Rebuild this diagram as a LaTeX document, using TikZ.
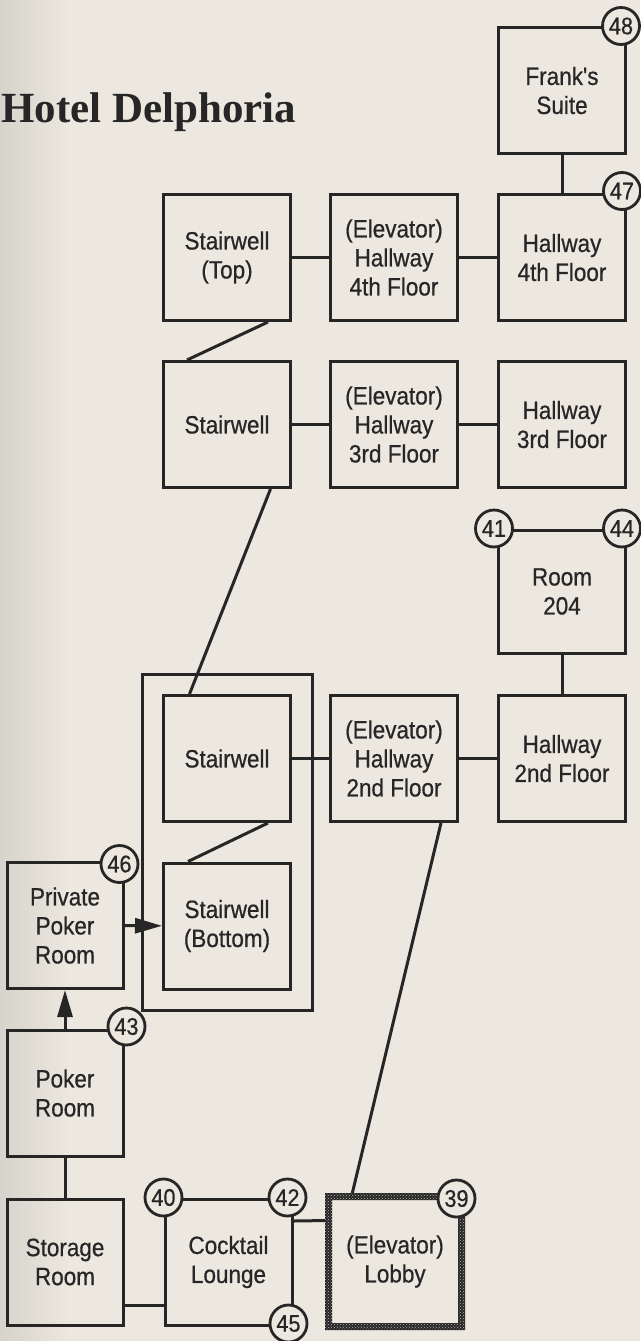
\documentclass[tikz,border=0pt]{standalone}
\usepackage{fontspec}
\setmainfont{Liberation Sans}
\newfontfamily\lab[FakeStretch=0.9,FakeBold=0.6]{Liberation Sans}
\newfontfamily\ttl{Liberation Serif}
\usetikzlibrary{arrows.meta,patterns,fit}
\definecolor{paper}{RGB}{236,232,223}
\definecolor{ink}{RGB}{38,38,38}
\begin{document}
\begin{tikzpicture}[x=1pt,y=-1pt,
 room/.style={draw=ink, line width=3pt, minimum width=127pt, minimum height=126pt, inner sep=0pt, align=center, font=\lab\fontsize{25}{29}\selectfont, text=ink},
 narrowroom/.style={room, minimum width=116pt},
 num/.style={circle, draw=ink, fill=paper, line width=2.8pt, minimum size=37pt, inner sep=0pt, font=\lab\fontsize{24}{24}\selectfont, text=ink},
 link/.style={draw=ink, line width=3pt},
 arr/.style={link, -{Triangle[length=27pt,width=15pt]}}
]
\useasboundingbox (0,0) rectangle (640,1341);
\fill[paper] (0,0) rectangle (640,1341);
\shade[left color=paper!80!gray, right color=paper] (0,0) rectangle (70,1341);

\node[anchor=base west, font=\ttl\bfseries\fontsize{43}{43}\selectfont, text=ink, inner sep=0pt] (title) at (1,122) {Hotel Delphoria};

\node[room] (frank) at (562,90.5) {Frank's\\Suite};
\node[room] (st4) at (227,257.5) {Stairwell\\(Top)};
\node[room] (eh4) at (394,257.5) {(Elevator)\\Hallway\\4th Floor};
\node[room] (h4) at (562,257.5) {Hallway\\4th Floor};
\node[room] (st3) at (227,424.5) {Stairwell};
\node[room] (eh3) at (394,424.5) {(Elevator)\\Hallway\\3rd Floor};
\node[room] (h3) at (562,424.5) {Hallway\\3rd Floor};
\node[room, minimum height=123pt] (r204) at (562,591.5) {Room\\204};
\node[room] (st2) at (227,758.5) {Stairwell};
\node[room] (eh2) at (394,758.5) {(Elevator)\\Hallway\\2nd Floor};
\node[room] (h2) at (562,758.5) {Hallway\\2nd Floor};
\node[room] (stb) at (227,926) {Stairwell\\(Bottom)};
\node[narrowroom] (ppr) at (65,925.5) {Private\\Poker\\Room};
\node[narrowroom] (poker) at (65,1093) {Poker\\Room};
\node[narrowroom] (storage) at (65,1262) {Storage\\Room};
\node[room] (cocktail) at (228.5,1262) {Cocktail\\Lounge};
\node[room, draw=none, minimum width=130pt, minimum height=127pt] (lobby) at (395,1261.5) {(Elevator)\\Lobby};
\node[draw=ink, line width=3pt, fit=(st2)(stb), inner sep=20pt] (stairbox) {};

% connectors
\draw[link] (frank) -- (h4);
\draw[link] (st4) -- (eh4);
\draw[link] (eh4) -- (h4);
\draw[link] ([xshift=-24pt]st4.south east) -- ([xshift=25pt]st3.north west);
\draw[link] (st3) -- (eh3);
\draw[link] (eh3) -- (h3);
\draw[link] ([xshift=-21.5pt]st3.south east) -- ([xshift=27.5pt]st2.north west);
\draw[link] (r204) -- (h2);
\draw[link] (st2) -- (eh2);
\draw[link] (eh2) -- (h2);
\draw[link] ([xshift=-24pt]st2.south east) -- ([xshift=26pt]stb.north west);
\draw[arr] (ppr) -- (stb);
\draw[arr] (poker) -- (ppr);
\draw[link] (poker) -- (storage);
\draw[link] ([yshift=-43pt]storage.east) -- ([yshift=-43pt]cocktail.west);
\draw[link] ([yshift=41pt]cocktail.east) -- ([yshift=41pt]lobby.west);
\draw[link] ([xshift=23pt]lobby.north west) -- ([xshift=-18pt]eh2.south east);

% hatched lobby border
\fill[ink, even odd rule]
  ([xshift=-3.5pt,yshift=3.5pt]lobby.north west) rectangle ([xshift=3.5pt,yshift=-3.5pt]lobby.south east)
  ([xshift=3.5pt,yshift=-3.5pt]lobby.north west) rectangle ([xshift=-3.5pt,yshift=3.5pt]lobby.south east);
\fill[pattern=crosshatch dots, pattern color=paper!75!ink, even odd rule]
  ([xshift=-3.5pt,yshift=3.5pt]lobby.north west) rectangle ([xshift=3.5pt,yshift=-3.5pt]lobby.south east)
  ([xshift=3.5pt,yshift=-3.5pt]lobby.north west) rectangle ([xshift=-3.5pt,yshift=3.5pt]lobby.south east);

% numbered circles
\node[num] (n48) at ([xshift=-6pt]frank.north east) {48};
\node[num] (n47) at ([xshift=-5pt,yshift=2pt]h4.north east) {47};
\node[num] (n41) at ([xshift=-3pt]r204.north west) {41};
\node[num] (n44) at ([xshift=-5pt]r204.north east) {44};
\node[num] (n46) at ([xshift=-5pt,yshift=-3pt]ppr.north east) {46};
\node[num] (n43) at ([xshift=2pt,yshift=2pt]poker.north east) {43};
\node[num] (n40) at (cocktail.north west) {40};
\node[num] (n42) at ([xshift=-6pt]cocktail.north east) {42};
\node[num] (n45) at ([xshift=-5pt,yshift=3pt]cocktail.south east) {45};
\node[num] (n39) at ([xshift=-5pt,yshift=-2pt]lobby.north east) {39};
\end{tikzpicture}
\end{document}
